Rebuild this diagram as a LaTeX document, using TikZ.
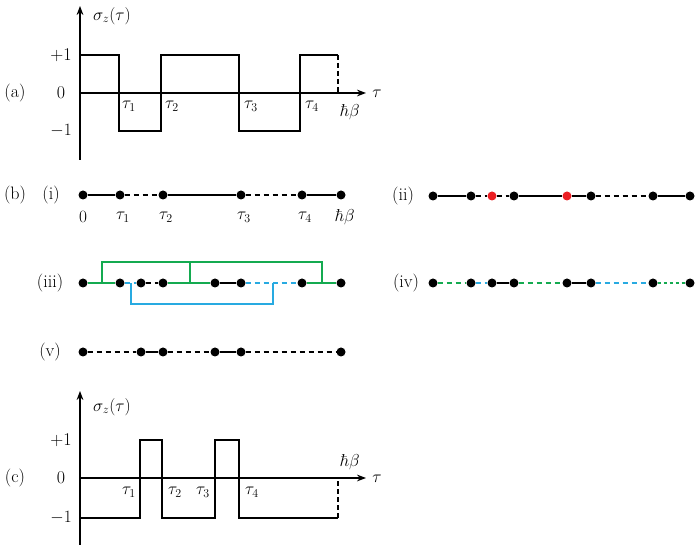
\documentclass[tikz,border=0pt]{standalone}
\usetikzlibrary{arrows.meta}
\definecolor{lgreen}{RGB}{20,170,80}
\definecolor{lcyan}{RGB}{40,170,225}
\definecolor{lred}{RGB}{235,30,35}
\tikzset{
  wave/.style={line width=2pt},
  axis/.style={line width=1.6pt,-{Stealth[length=9pt]}},
  dot/.style={circle,fill=black,inner sep=0pt,minimum size=9pt},
  rdot/.style={circle,fill=lred,inner sep=0pt,minimum size=9pt},
  seg/.style={line width=1.8pt},
  dseg/.style={line width=1.8pt,dash pattern=on 5pt off 4pt},
  lbl/.style={inner sep=1pt,font=\fontsize{18}{21}\selectfont}
}
\begin{document}
\begin{tikzpicture}[x=1pt,y=-1pt]
\useasboundingbox (0,0) rectangle (697,545);

% (a) trajectory
\node[lbl] at (15,93) {(a)};
\draw[axis] (80,160) -- (80,6);
\draw[axis] (80,93) -- (366,93);
\node[lbl] (sa) at (112,16) {$\sigma_z(\tau)$};
\node[lbl] at (377,94) {$\tau$};
\node[lbl] at (61,55) {+1};
\node[lbl] at (61,93) {0};
\node[lbl] at (61,131) {$-1$};
\draw[wave] (80,55) -- (119,55) -- (119,131) -- (161,131) -- (161,55) -- (239,55)
  -- (239,131) -- (300,131) -- (300,55) -- (338,55);
\draw[wave,dash pattern=on 5pt off 3pt] (338,55) -- (338,93);
\foreach \x/\t in {129/1,172/2,251/3,312/4}
  \node[lbl] at (\x,106) {$\tau_{\t}$};
\node[lbl] at (350,112) {$\hbar\beta$};

% (b) diagrams
\node[lbl] at (15,195) {(b)};
\node[lbl] at (51,195) {(i)};
\node[lbl] at (403,196) {(ii)};
\node[lbl] at (50,283) {(iii)};
\node[lbl] at (406,283) {(iv)};
\node[lbl] at (50,352) {(v)};

% (i)
\foreach \n/\x in {a/83,b/120,c/163,d/241,e/302,f/341}
  \node[dot] (i\n) at (\x,195) {};
\draw[seg] (ia) -- (ib); \draw[dseg] (ib) -- (ic); \draw[seg] (ic) -- (id);
\draw[dseg] (id) -- (ie); \draw[seg] (ie) -- (if);
\foreach \x/\t in {83/0,123/\tau_1,166/\tau_2,244/\tau_3,305/\tau_4,345/\hbar\beta}
  \node[lbl] at (\x,217) {$\t$};

% (ii)
\foreach \n/\x in {a/433,b/471,d/514,f/591,g/653,h/690}
  \node[dot] (ii\n) at (\x,196) {};
\node[rdot] (iic) at (492,196) {};
\node[rdot] (iie) at (567,196) {};
\draw[seg] (iia) -- (iib); \draw[dseg] (iib) -- (iic) -- (iid);
\draw[seg] (iid) -- (iie) -- (iif); \draw[dseg] (iif) -- (iig); \draw[seg] (iig) -- (iih);

% (iii)
\foreach \n/\x in {a/83,b/120,c/141,d/163,e/215,f/241,g/302,h/341}
  \node[dot] (iii\n) at (\x,283) {};
\draw[seg,lgreen] (iiia) -- (iiib);
\draw[dseg,lcyan] (iiib) -- (iiic);
\draw[dseg] (iiic) -- (iiid);
\draw[seg,lgreen] (iiid) -- (iiie);
\draw[seg] (iiie) -- (iiif);
\draw[dseg,lcyan] (iiif) -- (iiig);
\draw[seg,lgreen] (iiig) -- (iiih);
\draw[line width=1.8pt,lgreen] (102,283) -- (102,262) -- (322,262) -- (322,283);
\draw[line width=1.8pt,lgreen] (190,262) -- (190,283);
\draw[line width=1.8pt,lcyan] (131,283) -- (131,304) -- (273,304) -- (273,283);

% (iv)
\foreach \n/\x in {a/433,b/471,c/492,d/514,e/567,f/591,g/653,h/690}
  \node[dot] (iv\n) at (\x,283) {};
\draw[dseg,lgreen] (iva) -- (ivb);
\draw[dseg,lcyan] (ivb) -- (ivc);
\draw[seg] (ivc) -- (ivd);
\draw[dseg,lgreen] (ivd) -- (ive);
\draw[seg] (ive) -- (ivf);
\draw[dseg,lcyan] (ivf) -- (ivg);
\draw[line width=1.8pt,lgreen,dash pattern=on 3pt off 3pt] (ivg) -- (ivh);

% (v)
\foreach \n/\x in {a/83,b/141,c/163,d/215,e/241,f/341}
  \node[dot] (v\n) at (\x,352) {};
\draw[dseg] (va) -- (vb); \draw[seg] (vb) -- (vc); \draw[dseg] (vc) -- (vd);
\draw[seg] (vd) -- (ve); \draw[dseg] (ve) -- (vf);

% (c) trajectory
\node[lbl] at (15,478) {(c)};
\draw[axis] (80,545) -- (80,391);
\draw[axis] (80,478) -- (366,478);
\node[lbl] at (112,407) {$\sigma_z(\tau)$};
\node[lbl] at (377,479) {$\tau$};
\node[lbl] at (61,440) {+1};
\node[lbl] at (61,478) {0};
\node[lbl] at (61,518) {$-1$};
\draw[wave] (80,518) -- (140,518) -- (140,440) -- (162,440) -- (162,518) -- (215,518)
  -- (215,440) -- (239,440) -- (239,518) -- (338,518);
\draw[wave,dash pattern=on 5pt off 3pt] (338,518) -- (338,478);
\foreach \x/\t in {129/1,175/2,203/3,252/4}
  \node[lbl] at (\x,492) {$\tau_{\t}$};
\node[lbl] at (350,462) {$\hbar\beta$};
\end{tikzpicture}
\end{document}
